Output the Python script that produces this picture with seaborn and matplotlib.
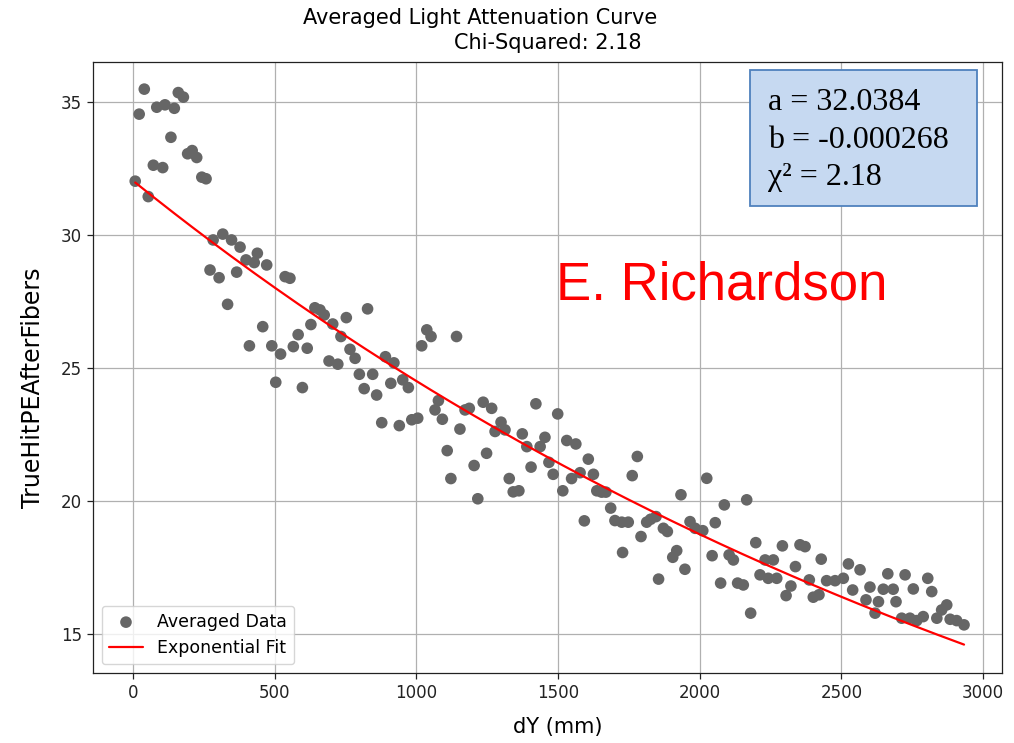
import numpy as np
import pandas as pd
import matplotlib
matplotlib.use("Agg")
import matplotlib.pyplot as plt
from matplotlib.patches import Rectangle
import seaborn as sns

# ---- data ----
dy_mm = [8, 22, 40, 54, 72, 84, 105, 113, 134, 146, 160, 178, 193, 209, 225, 243, 258,
         272, 283, 304, 317, 334, 348, 366, 378, 399, 411, 428, 439, 458, 472, 490, 504,
         521, 537, 554, 566, 583, 598, 615, 628, 642, 660, 675, 692, 705, 723, 734, 753,
         766, 784, 799, 816, 828, 846, 860, 878, 891, 910, 921, 940, 952, 972, 984, 1005,
         1019, 1037, 1052, 1066, 1078, 1092, 1109, 1122, 1142, 1154, 1172, 1187, 1204,
         1217, 1236, 1248, 1266, 1278, 1299, 1313, 1328, 1342, 1362, 1374, 1390, 1405,
         1422, 1437, 1454, 1468, 1483, 1499, 1517, 1531, 1548, 1563, 1578, 1593, 1607,
         1625, 1637, 1654, 1669, 1686, 1701, 1725, 1728, 1748, 1762, 1780, 1793, 1813,
         1827, 1846, 1855, 1872, 1886, 1905, 1919, 1934, 1948, 1966, 1984, 2011, 2025,
         2044, 2055, 2074, 2087, 2104, 2119, 2134, 2154, 2166, 2180, 2198, 2213, 2231,
         2242, 2260, 2272, 2292, 2305, 2322, 2338, 2354, 2372, 2387, 2401, 2421, 2429,
         2448, 2478, 2507, 2525, 2540, 2566, 2587, 2601, 2619, 2631, 2648, 2664, 2683,
         2693, 2713, 2725, 2742, 2754, 2766, 2789, 2805, 2819, 2837, 2854, 2872, 2884,
         2907, 2933]
pe_avg = [32.02, 34.54, 35.48, 31.44, 32.62, 34.80, 32.53, 34.89, 33.67, 34.76, 35.35,
          35.18, 33.05, 33.17, 32.91, 32.17, 32.11, 28.68, 29.81, 28.39, 30.03, 27.39,
          29.81, 28.60, 29.54, 29.06, 25.83, 28.96, 29.31, 26.55, 28.87, 25.83, 24.46,
          25.52, 28.43, 28.37, 25.80, 26.25, 24.26, 25.74, 26.63, 27.26, 27.18, 26.99,
          25.26, 26.65, 25.14, 26.18, 26.89, 25.70, 25.36, 24.76, 24.22, 27.22, 24.76,
          23.98, 22.94, 25.42, 24.42, 25.19, 22.83, 24.55, 24.26, 23.05, 23.11, 25.83,
          26.43, 26.18, 23.42, 23.77, 23.07, 21.89, 20.84, 26.18, 22.70, 23.42, 23.48,
          21.33, 20.08, 23.71, 21.79, 23.48, 22.61, 22.96, 22.67, 20.84, 20.34, 20.38,
          22.52, 22.04, 21.27, 23.65, 22.04, 22.39, 21.45, 21.00, 23.27, 20.38, 22.27,
          20.84, 22.14, 21.06, 19.25, 21.57, 21.00, 20.38, 20.33, 20.33, 19.73, 19.26,
          19.20, 18.06, 19.20, 20.95, 21.67, 18.66, 19.20, 19.31, 19.41, 17.06, 18.97,
          18.85, 17.88, 18.13, 20.23, 17.43, 19.22, 18.97, 18.88, 20.85, 17.94, 19.18,
          16.91, 19.85, 17.97, 17.78, 16.91, 16.84, 20.04, 15.78, 18.43, 17.22, 17.78,
          17.09, 17.78, 17.09, 18.31, 16.44, 16.80, 17.53, 18.35, 18.28, 17.03, 16.38,
          16.47, 17.81, 17.00, 17.00, 17.09, 17.63, 16.65, 17.41, 16.28, 16.76, 15.78,
          16.21, 16.68, 17.26, 16.68, 16.21, 15.59, 17.22, 15.59, 16.69, 15.50, 15.65,
          17.09, 16.59, 15.59, 15.90, 16.09, 15.55, 15.50, 15.34]

fit_a = 32.0384
fit_b = -0.000268
chi2 = 2.18

df = pd.DataFrame({"dY": dy_mm, "PE": pe_avg})
df["fit"] = fit_a * np.exp(fit_b * df["dY"])

sns.set_style("ticks")
plt.rcParams["font.family"] = ["DejaVu Sans"]
plt.rcParams["text.color"] = "black"
plt.rcParams["axes.labelcolor"] = "black"

W, H = 1014, 743
fig = plt.figure(figsize=(W / 100, H / 100), dpi=100)
ax = fig.add_axes([93 / W, 1 - 673 / H, (1002 - 93) / W, (673 - 62) / H])

sns.scatterplot(data=df, x="dY", y="PE", ax=ax, color="#666666", s=70,
                edgecolor="none", label="Averaged Data", zorder=3)
sns.lineplot(data=df, x="dY", y="fit", ax=ax, color="red", linewidth=1.6,
             label="Exponential Fit", zorder=4)

ax.set_xlim(-141, 3067)
ax.set_ylim(13.53, 36.5)
ax.set_xticks([0, 500, 1000, 1500, 2000, 2500, 3000])
ax.set_yticks([15, 20, 25, 30, 35])
ax.grid(True, color="#b0b0b0", linewidth=0.9)
ax.set_axisbelow(True)
for sp in ax.spines.values():
    sp.set_color("#222222")
    sp.set_linewidth(0.9)
ax.tick_params(labelsize=12, length=4.5, width=0.9, colors="#222222")
ax.set_xlabel("dY (mm)", fontsize=15)
ax.set_ylabel("TrueHitPEAfterFibers", fontsize=17)
ax.xaxis.set_label_coords((558 - 93) / (1002 - 93), -(727 - 673) / (673 - 62))
ax.yaxis.set_label_coords(-(93 - 33) / (1002 - 93), (673 - 388) / (673 - 62))
ax.xaxis.label.set_va("center")
ax.yaxis.label.set_va("center")

leg = ax.legend(loc="lower left", fontsize=12.5, frameon=True)
leg.get_frame().set_edgecolor("#cccccc")

fig.text(480 / W, 1 - 18 / H, "Averaged Light Attenuation Curve",
         ha="center", va="center", fontsize=15)
fig.text(548 / W, 1 - 43 / H, f"Chi-Squared: {chi2:.2f}",
         ha="center", va="center", fontsize=15)

# parameter box
fig.patches.append(Rectangle((750 / W, 1 - 206 / H), 227 / W, 136 / H,
                             transform=fig.transFigure, facecolor="#c6d9f1",
                             edgecolor="#4f81bd", linewidth=1.3, zorder=5))
fig.text(768 / W, 1 - 140 / H,
         f"a = {fit_a:.4f}\nb = {fit_b:.6f}\nχ² = {chi2:.2f}",
         ha="left", va="center", fontsize=23, color="black",
         family="Liberation Serif", linespacing=1.38, zorder=6)

fig.text(556 / W, 1 - 300 / H, "E. Richardson", color="red",
         ha="left", va="baseline", fontsize=38, family="Liberation Sans")

fig.savefig("out.png", dpi=100)
